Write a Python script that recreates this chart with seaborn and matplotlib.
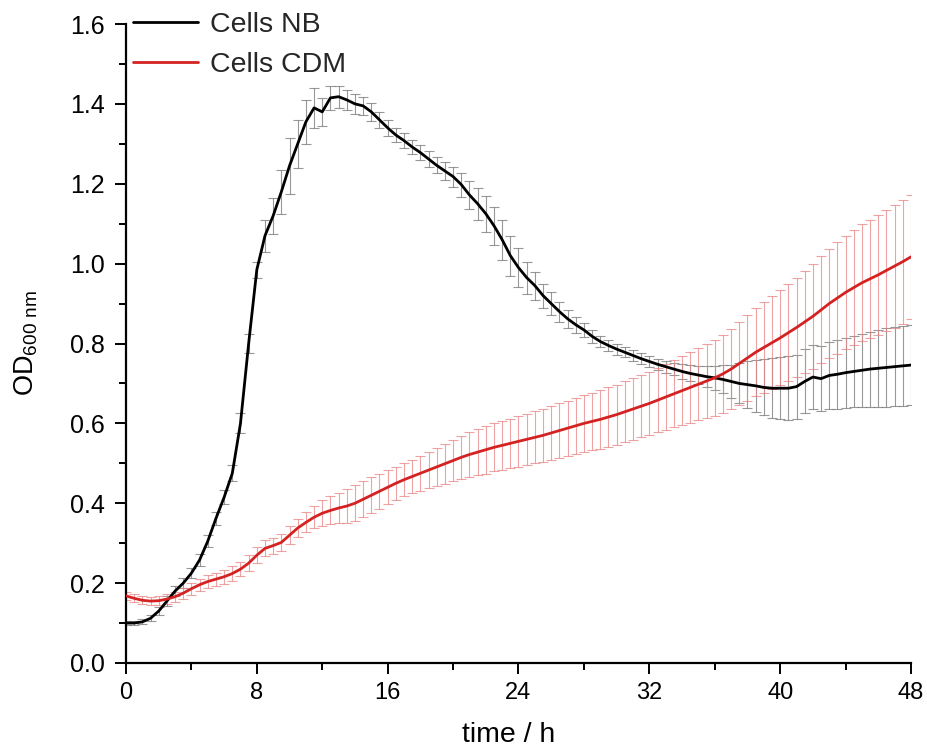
import numpy as np
import pandas as pd
import matplotlib
matplotlib.use("Agg")
import matplotlib.pyplot as plt
from matplotlib.ticker import MultipleLocator
import seaborn as sns

# ---- data ----
time_h = np.arange(0, 48.5, 0.5)

nb_od = [0.100, 0.100, 0.103, 0.112, 0.130, 0.155, 0.180, 0.200, 0.225, 0.258,
         0.305, 0.362, 0.415, 0.475, 0.600, 0.800, 0.985, 1.070, 1.120, 1.180,
         1.245, 1.300, 1.355, 1.390, 1.380, 1.415, 1.418, 1.410, 1.400, 1.395,
         1.380, 1.360, 1.340, 1.322, 1.308, 1.292, 1.278, 1.262, 1.246, 1.232,
         1.218, 1.198, 1.172, 1.150, 1.125, 1.095, 1.060, 1.020, 0.990, 0.965,
         0.945, 0.920, 0.900, 0.880, 0.862, 0.847, 0.834, 0.818, 0.805, 0.795,
         0.786, 0.778, 0.770, 0.762, 0.755, 0.748, 0.742, 0.736, 0.730, 0.725,
         0.721, 0.717, 0.714, 0.710, 0.705, 0.700, 0.697, 0.694, 0.690, 0.688,
         0.688, 0.688, 0.692, 0.705, 0.716, 0.712, 0.720, 0.723, 0.727, 0.730,
         0.733, 0.736, 0.738, 0.740, 0.742, 0.744, 0.746]

nb_err = [0.006, 0.006, 0.006, 0.008, 0.010, 0.012, 0.012, 0.012,
          0.012, 0.014, 0.015, 0.016, 0.018, 0.020,
          0.025, 0.025, 0.020, 0.040, 0.045, 0.055, 0.070, 0.060, 0.055, 0.050, 0.035, 0.030,
          0.028, 0.025, 0.025, 0.022, 0.022, 0.020, 0.020,
          0.018, 0.018, 0.018, 0.018, 0.020, 0.020, 0.022, 0.025,
          0.030, 0.035, 0.040, 0.045, 0.048, 0.050, 0.050, 0.048,
          0.040, 0.035, 0.030, 0.028, 0.025, 0.022,
          0.020, 0.018, 0.016, 0.015, 0.014, 0.014, 0.013, 0.013, 0.013, 0.013,
          0.014, 0.015, 0.016, 0.018, 0.020, 0.022,
          0.026, 0.030, 0.035, 0.042, 0.050, 0.058,
          0.065, 0.070, 0.075, 0.078, 0.080, 0.080, 0.080, 0.080,
          0.082, 0.084, 0.086, 0.088, 0.090, 0.092, 0.094, 0.096, 0.098, 0.099, 0.100, 0.100]

cdm_od = [0.168, 0.162, 0.157, 0.155, 0.156, 0.160, 0.166, 0.175, 0.186, 0.196,
          0.204, 0.210, 0.216, 0.224, 0.235, 0.250, 0.270, 0.287, 0.294, 0.302,
          0.320, 0.338, 0.352, 0.365, 0.375, 0.382, 0.388, 0.393, 0.400, 0.410,
          0.420, 0.430, 0.440, 0.450, 0.459, 0.467, 0.475, 0.483, 0.491, 0.499,
          0.507, 0.515, 0.522, 0.528, 0.534, 0.540, 0.545, 0.550, 0.555, 0.560,
          0.565, 0.570, 0.576, 0.582, 0.588, 0.594, 0.600, 0.605, 0.610, 0.616,
          0.622, 0.629, 0.636, 0.643, 0.650, 0.658, 0.666, 0.674, 0.682, 0.690,
          0.698, 0.706, 0.714, 0.724, 0.736, 0.750, 0.764, 0.778, 0.790, 0.802,
          0.814, 0.827, 0.840, 0.854, 0.868, 0.884, 0.900, 0.914, 0.928, 0.940,
          0.952, 0.962, 0.972, 0.983, 0.994, 1.005, 1.017]

cdm_err = [0.010, 0.010, 0.010, 0.010, 0.012,
           0.012, 0.013, 0.014, 0.015, 0.015, 0.016, 0.016, 0.017,
           0.018, 0.018, 0.020, 0.020, 0.020, 0.020, 0.021, 0.022,
           0.022, 0.025, 0.028, 0.032, 0.035, 0.038,
           0.042, 0.045, 0.045, 0.045, 0.044, 0.043, 0.042, 0.042, 0.042, 0.044, 0.046, 0.048,
           0.050, 0.052, 0.054, 0.056, 0.058, 0.060, 0.060, 0.061,
           0.062, 0.063, 0.064, 0.065, 0.066, 0.067, 0.068, 0.069,
           0.070, 0.071, 0.072, 0.073, 0.074, 0.075, 0.076, 0.077,
           0.078, 0.079, 0.080, 0.082, 0.084, 0.086, 0.088, 0.090,
           0.092, 0.095, 0.098, 0.101, 0.104, 0.107, 0.110, 0.113, 0.116, 0.119,
           0.122, 0.125, 0.128, 0.131, 0.134, 0.137, 0.140, 0.142,
           0.144, 0.146, 0.148, 0.150, 0.152, 0.154, 0.155, 0.156]

series_names = ["Cells NB", "Cells CDM"]
x_ticks = [0, 8, 16, 24, 32, 40, 48]
y_ticks = [0.0, 0.2, 0.4, 0.6, 0.8, 1.0, 1.2, 1.4, 1.6]

line_colors = {"Cells NB": "#000000", "Cells CDM": "#d42222"}
bar_colors = {"Cells NB": "#767676", "Cells CDM": "#e88484"}

df = pd.DataFrame({
    "time": np.concatenate([time_h, time_h]),
    "od": nb_od + cdm_od,
    "err": nb_err + cdm_err,
    "series": [series_names[0]] * len(time_h) + [series_names[1]] * len(time_h),
})

# ---- style ----
sns.set_theme(style="ticks")
plt.rcParams["font.family"] = ["Liberation Sans", "DejaVu Sans"]
plt.rcParams["mathtext.default"] = "regular"

fig = plt.figure(figsize=(9.28, 7.53), dpi=100)
ax = fig.add_axes([126 / 928, 1 - 663 / 753, 785 / 928, 639 / 753])

for name in series_names:
    sub = df[df["series"] == name]
    ax.errorbar(sub["time"], sub["od"], yerr=sub["err"], fmt="none",
                ecolor=bar_colors[name], elinewidth=0.8, capsize=3.6,
                capthick=0.8, alpha=0.75, zorder=2)

sns.lineplot(data=df, x="time", y="od", hue="series", hue_order=series_names,
             palette=line_colors, linewidth=2.0, estimator=None, sort=False,
             ax=ax, zorder=3)

handles, labels = ax.get_legend_handles_labels()
ax.legend(handles=handles, labels=labels, loc="upper left",
          bbox_to_anchor=(133 / 928, 1 - 12 / 753), bbox_transform=fig.transFigure,
          frameon=False, fontsize=20.5, handlelength=2.3, handletextpad=0.4,
          labelspacing=0.5, borderpad=0, borderaxespad=0)

ax.set_xlim(0, 48)
ax.set_ylim(0, 1.6)
ax.set_xticks(x_ticks)
ax.set_yticks(y_ticks)
ax.set_yticklabels([f"{v:.1f}" for v in y_ticks])
ax.xaxis.set_minor_locator(MultipleLocator(4))
ax.yaxis.set_minor_locator(MultipleLocator(0.1))

sns.despine(ax=ax)
for s in ["left", "bottom"]:
    ax.spines[s].set_linewidth(1.6)
    ax.spines[s].set_color("black")

ax.tick_params(which="major", direction="out", length=8, width=1.4,
               colors="black", pad=6)
ax.tick_params(axis="y", which="major", labelsize=18, pad=7)
ax.tick_params(axis="x", which="major", labelsize=17, pad=6)
ax.tick_params(which="minor", direction="out", length=5, width=1.4, colors="black")

ax.set_xlabel("time / h", fontsize=20.5, labelpad=16, color="black")
ax.xaxis.set_label_coords((509 - 126) / 785, -0.093)
ax.set_ylabel("OD$_{600\\ nm}$", fontsize=19.5, labelpad=22, color="black")

fig.savefig("out.png", dpi=100, facecolor="white")
